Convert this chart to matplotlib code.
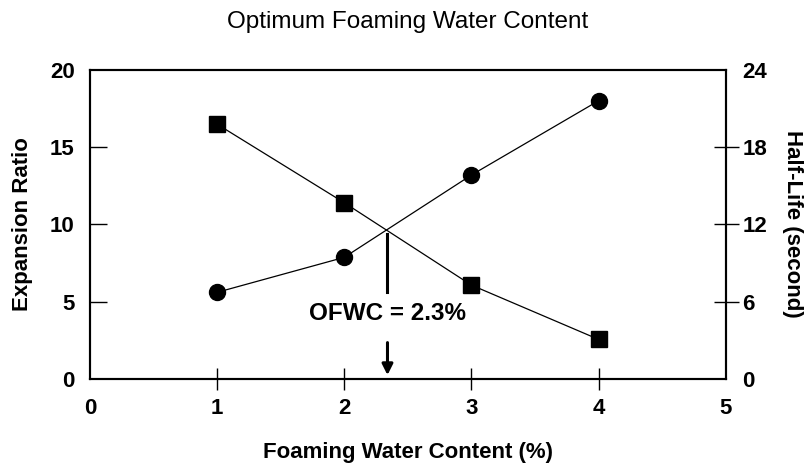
import matplotlib.pyplot as plt

plt.rcParams['font.family'] = ['Liberation Sans', 'DejaVu Sans']

water = [1, 2, 3, 4]
expansion = [5.6, 7.86, 13.18, 17.98]
half_life = [19.76, 13.67, 7.28, 3.07]
ofwc = 2.34

fig = plt.figure(figsize=(8.12, 4.65), dpi=100)
ax = fig.add_axes([0.1108, 0.185, 0.7829, 0.6655])
ax2 = ax.twinx()

ax.plot(water, expansion, color='black', lw=0.9, marker='o', ms=11.5, zorder=3)
ax2.plot(water, half_life, color='black', lw=0.9, marker='s', ms=12, zorder=3)

ax.set_xlim(0, 5)
ax.set_ylim(0, 20)
ax2.set_ylim(0, 24)
ax.set_xticks([0, 1, 2, 3, 4, 5])
ax.set_yticks([0, 5, 10, 15, 20])
ax2.set_yticks([0, 6, 12, 18, 24])

for a in (ax, ax2):
    for s in a.spines.values():
        s.set_linewidth(1.5)

ax.tick_params(axis='x', direction='inout', length=16, width=1, pad=6, labelsize=16)
ax.tick_params(axis='y', direction='in', length=12, width=1, pad=11, labelsize=16)
ax2.tick_params(axis='y', direction='inout', length=18, width=1, pad=3, labelsize=16)
for lab in ax.get_xticklabels() + ax.get_yticklabels() + ax2.get_yticklabels():
    lab.set_fontweight('bold')
# no visible tick marks at the ends
for t in (ax.xaxis.get_major_ticks()[0], ax.xaxis.get_major_ticks()[-1],
          ax.yaxis.get_major_ticks()[0], ax.yaxis.get_major_ticks()[-1],
          ax2.yaxis.get_major_ticks()[0], ax2.yaxis.get_major_ticks()[-1]):
    t.tick1line.set_visible(False)
    t.tick2line.set_visible(False)

ax.set_xlabel('Foaming Water Content (%)', fontsize=16, fontweight='bold', labelpad=16)
ax.set_ylabel('Expansion Ratio', fontsize=16, fontweight='bold', labelpad=12)
ax2.set_ylabel('Half-Life (second)', fontsize=16, fontweight='bold', rotation=270, labelpad=26)
ax.set_title('Optimum Foaming Water Content', fontsize=17.5, pad=30)

# OFWC marker
ax.plot([ofwc, ofwc], [9.4, 5.6], color='black', lw=2.2, zorder=4)
ax.annotate('', xy=(ofwc, 0.25), xytext=(ofwc, 2.35),
            arrowprops=dict(arrowstyle='-|>', color='black', lw=2.2,
                            mutation_scale=16, shrinkA=0, shrinkB=0))
ax.text(ofwc, 4.2, 'OFWC = 2.3%', fontsize=17.5, fontweight='bold',
        ha='center', va='center')

fig.savefig('out.png', dpi=100)
